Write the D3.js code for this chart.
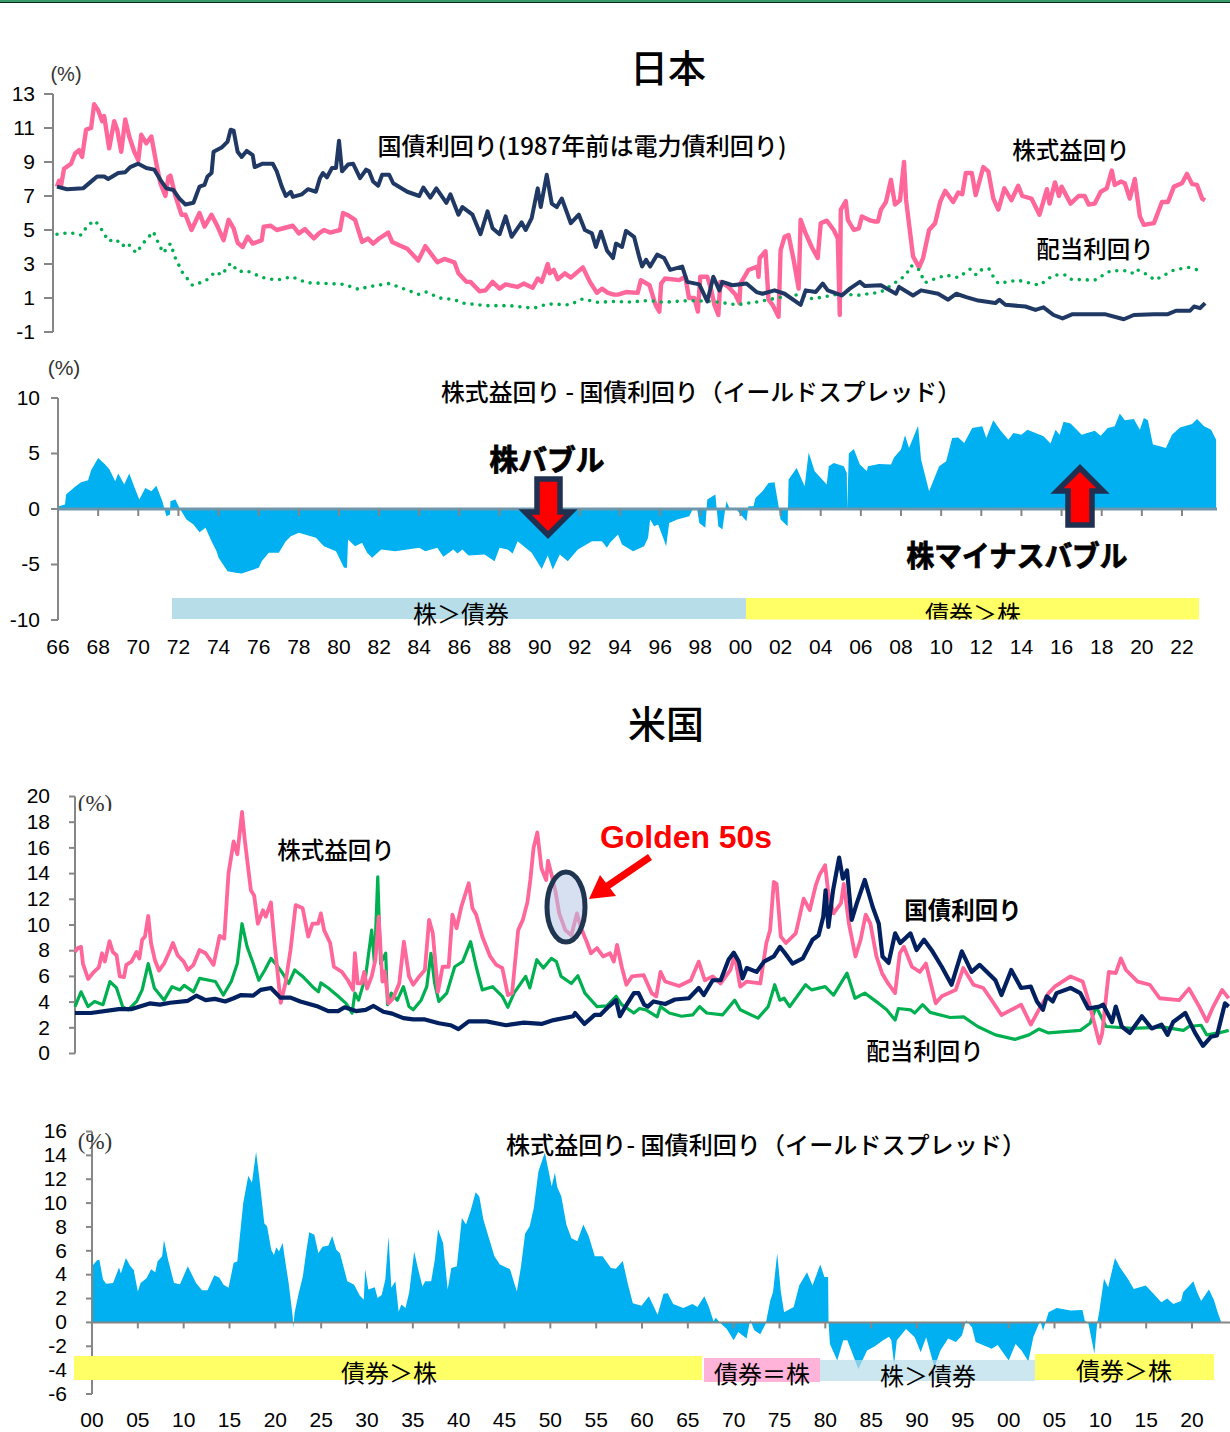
<!DOCTYPE html>
<html><head><meta charset="utf-8">
<script src="https://cdnjs.cloudflare.com/ajax/libs/d3/7.8.5/d3.min.js"></script>
<style>html,body{margin:0;padding:0;background:#fff}svg{display:block}
text{font-family:"Noto Sans CJK JP","Noto Sans",sans-serif;fill:#000}
.num text,.num{font-family:"Liberation Sans",Arial,sans-serif}
</style></head><body><svg id="c" width="1230" height="1432"></svg>
<script>
// All series: [years since 1900, percent]
const jpEarnings=[[65.95,7.55],[66.05,7.9],[66.15,7.6],[66.3,8.6],[66.65,8.9],[66.85,9.5],[67.05,9.7],[67.2,9.3],[67.4,10.9],[67.65,11],[67.8,12.4],[68,12.05],[68.2,11.4],[68.3,11.7],[68.55,9.8],[68.8,11.4],[68.95,10.9],[69.15,9.6],[69.35,11.5],[69.55,10.5],[69.8,9.6],[70,9.1],[70.15,10.6],[70.4,10.1],[70.65,10.5],[70.9,8.9],[71.1,7.75],[71.35,7],[71.5,8.1],[71.6,8.2],[71.85,7],[72.15,5.9],[72.35,5.9],[72.65,5],[73.05,6],[73.3,5.2],[73.65,5.9],[73.95,5.2],[74.25,4.4],[74.5,5.6],[74.75,5.1],[74.95,4.25],[75.2,4],[75.45,4.6],[75.7,4.2],[76.15,4.4],[76.25,5.2],[76.6,5.25],[76.9,5],[77.7,5.25],[78,4.8],[78.3,5.05],[78.75,4.5],[79,4.8],[79.25,5],[79.55,4.85],[80.05,5],[80.2,6],[80.4,5.9],[80.8,5.6],[81.15,4.3],[81.45,4.5],[81.7,4.2],[82,4.5],[82.45,4.85],[82.65,4.3],[83,4.1],[83.4,3.9],[83.95,3.2],[84.3,4.05],[84.9,3.1],[85.25,3.3],[85.75,3.1],[85.95,2.45],[86.35,1.95],[86.55,1.95],[87,1.4],[87.3,1.45],[87.65,1.95],[88,1.55],[88.3,1.8],[88.9,1.65],[89.2,1.85],[89.65,1.6],[89.9,2.15],[90.1,1.95],[90.4,3],[90.5,2.45],[90.7,2.65],[90.9,2.1],[91.25,2.45],[91.55,2.2],[92.15,2.8],[92.5,1.95],[92.85,1.3],[93.1,1.55],[93.4,1.3],[93.7,1.2],[93.9,1.2],[94.3,1.35],[94.88,1.3],[95.04,2.05],[95.47,1.75],[95.77,.6],[95.96,.2],[96.05,1.85],[96.25,2.15],[96.95,2.05],[97.25,2.25],[97.44,1],[97.7,1],[97.88,.2],[98,2.25],[98.35,2.25],[98.55,1.45],[98.7,.6],[98.9,0],[99,1.95],[99.4,1.65],[99.75,1.2],[99.95,.7],[100,1.85],[100.3,2.45],[100.4,2.65],[100.85,2.85],[100.9,2.25],[100.96,3.35],[101.25,3.75],[101.4,.9],[101.6,.6],[101.9,-.1],[102,3.8],[102.2,4.6],[102.4,4.7],[102.65,3.25],[102.9,1.55],[103,5.6],[103.25,4.8],[103.55,4],[103.85,3.35],[104,5.4],[104.3,5.55],[104.65,5],[104.85,4.5],[104.95,0],[105,6.2],[105.25,6.7],[105.35,5.6],[105.65,5],[105.9,5.1],[106.05,5.8],[106.5,5.55],[106.7,5.5],[106.85,5.5],[107,6.2],[107.25,6.65],[107.5,7.95],[107.7,6.5],[107.95,6.75],[108.15,9],[108.25,6.8],[108.6,3.45],[108.9,2.8],[109.1,3.35],[109.4,5],[109.7,5.4],[109.95,6.65],[110.2,7.3],[110.6,6.65],[110.85,7.2],[111.05,7.1],[111.23,8.35],[111.53,8.35],[111.72,7.05],[112.1,8.7],[112.35,8.45],[112.6,6.85],[112.85,6.2],[113.15,7.45],[113.5,6.75],[113.84,7.6],[114.04,7],[114.5,6.85],[114.9,5.9],[115.27,7.4],[115.4,6.55],[115.67,7.8],[115.87,7],[116,7.55],[116.45,6.55],[116.85,7],[117.15,7],[117.35,6.5],[117.65,6.55],[117.95,7.25],[118.25,7.45],[118.5,8.5],[118.65,7.65],[118.95,7.85],[119.15,7.75],[119.4,6.85],[119.65,8],[119.9,5.8],[120.1,5.3],[120.6,5.4],[121,6.65],[121.3,6.65],[121.6,7.55],[122,7.75],[122.25,8.3],[122.5,7.7],[122.75,7.65],[123,6.85],[123.15,6.75]];
const jpBond=[[65.95,7.55],[66.45,7.4],[67.25,7.45],[67.75,7.95],[67.95,8.15],[68.3,8.15],[68.5,8],[69,8.35],[69.35,8.4],[69.6,8.7],[70,8.9],[70.4,8.65],[70.8,8.55],[71.1,7.95],[71.4,7.45],[71.75,7.35],[72.05,6.85],[72.35,6.5],[72.75,6.6],[73.05,7.55],[73.3,7.65],[73.45,8.15],[73.65,8.35],[73.75,9.6],[74.15,9.85],[74.45,10.2],[74.6,10.9],[74.75,10.85],[74.95,9.6],[75.15,9.3],[75.4,9.65],[75.7,9.4],[75.8,8.7],[76.2,8.9],[76.7,8.9],[76.9,8.45],[77.15,7.55],[77.35,7],[77.6,7.25],[77.7,6.95],[78.15,7.1],[78.45,7.4],[78.85,7.25],[79.05,8.05],[79.2,8.35],[79.4,8.1],[79.65,8.65],[79.85,8.65],[80,10.25],[80.15,8.45],[80.45,8.85],[80.7,8.9],[81.05,8.05],[81.35,8.55],[81.5,8.45],[81.7,7.85],[81.95,7.6],[82.15,8.25],[82.5,8.25],[82.7,7.75],[83.4,7.25],[84,7],[84.2,7.5],[84.55,6.9],[84.85,7.45],[85.35,6.6],[85.55,7.1],[85.95,5.9],[86.15,6.35],[86.65,5.9],[87.05,4.75],[87.4,6.1],[87.65,5.1],[88,4.75],[88.3,5.8],[88.6,4.6],[89.1,5.45],[89.3,5],[89.6,5.7],[89.9,7.45],[90.05,6.35],[90.35,8.25],[90.6,6.55],[90.85,6.35],[91.1,6.85],[91.55,5.4],[91.95,5.9],[92.25,5],[92.6,4.8],[92.8,4],[93.05,4.9],[93.35,3.8],[93.65,3.35],[93.8,4.2],[94.1,4],[94.3,4.95],[94.7,4.6],[94.95,3.45],[95.1,2.85],[95.3,3.25],[95.5,2.85],[95.85,3.55],[96.2,3.35],[96.5,2.65],[97.1,2.85],[97.35,1.95],[97.95,1.8],[98.35,.8],[98.65,2.25],[98.95,1.45],[99.1,1.95],[99.6,1.75],[100.3,1.85],[100.8,1.35],[101.1,1.25],[101.7,1.45],[102.2,1.25],[103,.6],[103.25,1.45],[103.75,1.35],[104.1,1.85],[104.35,1.45],[105.05,1.15],[105.45,1.55],[105.95,1.95],[106.2,1.7],[107,1.75],[107.75,1.25],[107.9,1.65],[108.6,1.15],[109,1.45],[109.85,1.25],[110.35,.9],[110.75,1.25],[111.25,1.05],[111.85,.85],[112.7,.7],[112.9,.9],[113.2,.6],[114.2,.5],[114.7,.3],[115.1,.45],[115.6,0],[116.05,-.2],[116.55,.05],[118.15,.05],[119.1,-.25],[119.6,0],[120.6,.05],[121.3,.05],[121.7,.25],[122.4,.25],[122.6,.5],[122.9,.4],[123.15,.7]];
const jpDividend=[[65.95,4.75],[66.6,4.85],[67.15,4.7],[67.5,5.3],[67.85,5.55],[68.25,4.9],[68.5,4.35],[68.9,4.45],[69.2,4.05],[69.45,4.25],[69.9,3.65],[70.3,4.3],[70.75,4.9],[71.05,4.1],[71.25,3.65],[71.6,4.2],[71.85,3.35],[72.2,2.5],[72.7,1.75],[73.35,2],[73.85,2.55],[74.15,2.35],[74.6,3.05],[75,2.55],[75.4,2.6],[76.2,2.2],[76.9,2.05],[77.65,2.25],[78.4,1.9],[79.45,1.85],[80.25,1.8],[81,1.5],[81.4,1.65],[82.5,1.85],[83.2,1.55],[84,1.2],[84.35,1.35],[85,1],[85.75,.9],[86.15,.7],[87.35,.55],[88.5,.55],[89.7,.4],[90.4,.65],[91.5,.6],[92.15,.95],[92.85,.75],[93.85,.8],[94.3,.75],[95.4,.85],[96.2,.75],[97.45,.85],[98.65,.8],[99.8,.6],[101,.8],[101.8,1],[102.9,1.2],[103.6,.95],[105,1.25],[105.8,1.15],[107,1.35],[107.9,2.05],[108.25,2.35],[108.5,2.9],[108.85,2.75],[109.2,1.9],[109.5,2.05],[110.25,2.35],[110.85,2.2],[111.45,2.7],[111.75,2.35],[112.05,2.7],[112.4,2.7],[112.6,2.25],[112.85,1.85],[113.8,2.05],[114.9,1.75],[115.6,2.35],[116.2,2.35],[116.45,2.1],[117.65,2.05],[118.45,2.6],[119.15,2.6],[119.5,2.45],[119.7,2.7],[120.3,2.35],[120.65,2.05],[121.6,2.65],[122.3,2.8],[122.95,2.6]];
const jpSpread=[[66,.1],[66.05,.25],[66.35,.4],[66.4,1.3],[66.85,2],[67.15,2.4],[67.5,2.6],[67.65,3.5],[68,4.6],[68.3,4.1],[68.55,3.6],[68.85,2.5],[69,3.2],[69.3,2.2],[69.55,3.2],[69.8,2],[70.05,.85],[70.35,1.9],[70.65,1.6],[70.9,2.1],[71.2,.7],[71.4,-.65],[71.58,-.5],[71.6,.7],[71.85,.85],[72.05,.1],[72.4,-.95],[72.75,-1.4],[73.05,-2.1],[73.35,-1.7],[73.65,-2.9],[73.9,-3.8],[74,-4.4],[74.45,-5.6],[74.85,-5.75],[75.15,-5.8],[76,-5.3],[76.15,-4.7],[76.5,-3.95],[77,-3.95],[77.35,-2.9],[77.6,-2.45],[78,-2.15],[78.85,-2.6],[79.25,-3.35],[79.85,-3.8],[80.25,-5.3],[80.4,-5.3],[80.45,-2.75],[80.8,-3.35],[81.15,-3.05],[81.4,-3.95],[81.65,-4.4],[82.1,-3.65],[82.8,-3.8],[84,-3.5],[84.3,-3.8],[84.9,-3.5],[85.2,-4.3],[85.7,-3.65],[85.9,-4],[86.15,-3.65],[86.45,-4.2],[87.25,-4.1],[87.75,-4.7],[88,-3.5],[88.4,-3.65],[88.65,-4],[88.9,-2.9],[89.6,-3.95],[90.1,-5.4],[90.4,-4.2],[90.65,-5.45],[91,-4.1],[91.4,-4.7],[91.9,-3.65],[92.6,-2.9],[93.1,-2.9],[93.35,-3.5],[93.5,-3.05],[93.9,-2.3],[94.1,-3.2],[94.65,-3.8],[95.2,-3.35],[95.4,-2.6],[95.5,-.95],[95.7,-1.55],[95.9,-1.4],[96.15,-2.6],[96.3,-3.35],[96.45,-1.25],[96.85,-.95],[97.45,-.65],[97.65,.1],[97.85,-.05],[97.95,-1.25],[98.25,-1.7],[98.35,.85],[98.75,1.3],[98.9,-1.55],[99.1,-1.85],[99.3,.7],[99.45,.1],[99.8,-.05],[100.3,-1.1],[100.4,.25],[100.65,.25],[100.75,1],[101.1,1.6],[101.4,2.35],[101.7,2.4],[101.9,.25],[102,-.95],[102.35,-1.55],[102.4,2.65],[102.8,3.7],[103.2,2.05],[103.4,5.1],[103.7,3.4],[104.3,2.2],[104.4,3.85],[104.65,4.15],[105.15,3.85],[105.3,3.25],[105.32,0],[105.4,5],[105.65,5.4],[105.95,4],[106.3,3.4],[106.35,3.85],[106.9,4.05],[107.5,4],[107.65,4.65],[108,5.35],[108.2,6.65],[108.4,5.5],[108.85,7.5],[109,4.45],[109.4,1.6],[109.9,3.85],[110.25,4.3],[110.55,6.4],[110.85,6.45],[111.15,5.95],[111.55,7.3],[112.05,7.45],[112.25,6.4],[112.6,8],[112.95,7.1],[113.35,6.25],[113.6,6.85],[114,6.7],[114.3,7.15],[115.1,6.55],[115.45,5.9],[115.7,7.15],[115.9,6.7],[116.1,7.85],[116.45,7.7],[117,6.7],[117.65,7.05],[117.95,6.6],[118.3,7.3],[118.65,7.45],[118.9,8.6],[119.15,8],[119.6,8.1],[119.9,7.15],[120.1,8.2],[120.3,8],[120.55,5.8],[120.9,5.65],[121.2,5.5],[121.5,6.7],[121.9,7.35],[122.5,7.65],[122.75,8.1],[123.1,7.45],[123.45,7.15],[123.7,6.25]];

const usEarnings=[[0,7.9],[.3,8.2],[.65,8.3],[.85,7],[1.4,5.8],[1.9,6.25],[2.55,6.7],[2.9,7.8],[3.2,7.15],[3.7,8.75],[4.05,7.9],[4.45,7.65],[4.8,6],[5.25,5.95],[5.5,6.9],[6.05,7.15],[6.6,7.9],[6.9,7.4],[7.2,8.85],[7.5,9.1],[7.85,10.7],[8.15,8.6],[8.55,7.3],[9,6.45],[9.55,7],[10.2,8.05],[10.5,8.6],[11,7.65],[11.65,7.15],[12.1,6.5],[12.7,6.9],[13.35,8.05],[14,7.8],[14.85,6.9],[15.5,9.15],[16,8.95],[16.45,14],[17,16.5],[17.4,15.5],[17.9,18.8],[18.2,16.6],[18.85,12.7],[19.2,12.3],[19.6,10.1],[20.15,11.15],[20.45,10.65],[21,11.75],[21.35,8.85],[22.05,3.95],[22.55,5.45],[23.1,8.05],[23.65,11.55],[24.4,11.3],[25,9.1],[25.45,10.1],[26.05,10.1],[26.35,10.9],[26.7,9.6],[27.35,8.6],[27.75,6.75],[28.6,6.35],[29.25,5.7],[29.8,4.95],[30,7.8],[30.3,5.45],[30.7,5.45],[31,6.35],[31.3,5.05],[31.8,6],[32.2,7.3],[32.55,10.65],[32.95,5.6],[33.2,6.4],[33.6,3.9],[34.1,4.3],[34.75,5.45],[35.25,8.7],[35.8,6],[36.25,5.35],[36.9,6],[37.5,6.5],[37.95,10.4],[38.35,9.35],[38.9,4.8],[39.4,6.75],[40.05,6.75],[40.45,10.8],[40.9,9.75],[41.4,11.4],[42.2,13.25],[42.6,11.3],[43,10.8],[43.65,9.1],[44.5,7.55],[45.15,6.9],[45.8,6.65],[46.4,4.55],[46.85,4.7],[47.5,9.6],[48,10.4],[48.5,11.8],[48.8,13.5],[49.15,16],[49.55,17.2],[50,14.4],[50.5,13.5],[50.7,15],[51.05,14],[51.5,12.6],[51.9,10.9],[52.55,9.6],[53.2,9.2],[53.8,10.9],[54.25,9.75],[54.9,8.6],[55.3,7.8],[55.95,8.2],[56.6,7.55],[57.35,7.8],[57.75,7.15],[58.1,8.45],[58.6,6.75],[59.1,5.35],[59.7,6],[60.95,6.1],[61.8,4.7],[62.3,4.45],[62.75,6.35],[63.25,5.6],[64.75,5.25],[66,5.7],[66.85,7.15],[67.5,5.7],[68.35,6],[69.2,5.45],[70.25,6.5],[70.7,7.65],[71.3,5.2],[72,5.6],[73.45,5.45],[74.1,8.6],[74.5,9.6],[74.9,13.35],[75.2,13.2],[75.65,9.1],[76.2,8.6],[77.25,9.35],[78.1,12.05],[78.75,11.15],[79.4,13.1],[79.8,13.9],[80.4,14.65],[80.75,12.45],[81.3,10.9],[82.1,11.7],[82.4,13.2],[82.95,10.1],[83.65,7.55],[84.2,8.85],[84.75,10.8],[85.25,10.1],[85.9,7.55],[86.5,6.25],[87.15,5.45],[87.9,4.7],[88.4,7.8],[88.85,8.3],[89.7,6.75],[90.55,6.35],[91.2,7],[92.25,3.9],[92.9,4.45],[94.4,4.95],[95.2,6.65],[96.3,5.35],[97.35,5.1],[98.2,4.2],[99.3,3],[101.4,3.8],[102.45,2.25],[103.3,3.4],[104.35,4.7],[105,5.2],[106.7,6],[108,5.6],[108.6,4.2],[109.25,2.35],[109.8,.8],[110.1,1.6],[110.8,6.35],[111.55,6.25],[112.1,7.4],[112.65,6.5],[113.9,5.6],[115.2,5.35],[116.25,4.3],[118.35,4.15],[119.4,5.05],[120.5,3.65],[121.3,2.5],[122,3.65],[122.95,4.95],[123.65,4.3]];
const usDividend=[[0,3.65],[.65,4.8],[1.4,3.65],[2.1,4.05],[3,3.8],[3.75,5.6],[4.45,5.1],[5.1,3.65],[5.7,3.4],[6.6,4.05],[7.2,4.95],[7.85,7],[8.5,5.1],[9.55,4.15],[10.4,5.2],[11.25,4.95],[11.7,5.3],[12.7,4.8],[13.35,5.85],[15.05,5.6],[15.9,4.55],[16.75,5.6],[17.4,7],[17.9,10.1],[18.45,8.3],[19.1,7],[19.7,5.7],[20.35,6.5],[21,7.4],[21.6,6.9],[22.25,6.25],[22.9,5.45],[23.55,6.5],[24.4,6],[25.45,5.2],[26.1,4.8],[26.35,5.5],[27.15,5.1],[28.2,4.45],[29.05,3.9],[29.7,3.15],[30,4.7],[30.4,4.15],[31.15,6],[31.8,9.6],[32.1,7],[32.45,13.75],[32.75,7],[33.3,7.8],[33.5,3.8],[33.9,4.7],[34.55,4.15],[35.2,5.2],[35.8,3.65],[36.25,3.4],[37.1,4.15],[37.7,5.2],[38.15,7.8],[38.55,5.45],[39,4.05],[39.85,4.7],[40.7,6.75],[41.55,7.15],[42.4,8.7],[43,6.75],[43.65,4.95],[44.75,5.2],[45.8,4.45],[46.4,3.6],[47.05,4.7],[48.3,6],[48.75,5.1],[49.5,7.3],[50.2,6.65],[51.05,7.4],[51.6,7.15],[52.1,6],[53.2,5.45],[53.9,6.05],[54.65,4.7],[55.95,3.65],[57,3.7],[58,4.45],[58.6,3.8],[59.9,3.15],[60.5,3.5],[61.2,3.4],[62.4,2.85],[62.75,3.65],[63.7,3.15],[65,2.9],[66.2,3],[66.95,3.65],[67.7,3.15],[69.4,3],[70.7,4.15],[71.3,3.4],[73.2,2.75],[74.3,3.65],[75,5.35],[75.55,4.15],[76,4.3],[76.6,3.65],[78.3,5.35],[78.95,4.95],[80.4,5.2],[81.3,4.55],[82.75,6.25],[83.6,4.3],[84.65,4.7],[86.15,3.9],[87,3.4],[87.9,2.6],[88.25,3.5],[89.55,3.4],[90,3.15],[90.85,3.8],[91.65,3.2],[93.8,2.8],[95.25,2.85],[96.75,2.1],[98.65,1.45],[100.75,1.1],[102.25,1.45],[103.3,1.9],[104.35,1.6],[107.75,1.8],[108.8,2.35],[109.45,3.65],[110.5,2.1],[113.25,1.95],[116.7,2.05],[118.8,1.8],[119.4,2.1],[120.7,2.2],[121.3,1.45],[122.6,1.6],[123.65,1.8]];
const usBond=[[0,3.15],[1.7,3.15],[4.7,3.45],[6,3.45],[8,3.9],[9.1,3.8],[10.2,3.95],[12.1,4.1],[13,4.5],[14,4.15],[15,4.25],[16.1,4.05],[17,4.3],[17.8,4.55],[19.1,4.5],[19.9,4.95],[21,5.1],[22,4.35],[23.1,4.35],[24.15,4.05],[26.05,3.65],[27.15,3.3],[28.2,3.3],[28.9,3.6],[30.1,3.3],[31.15,3.4],[32,3.7],[33.05,3.25],[34,3.1],[35.2,2.75],[36.25,2.65],[37.5,2.65],[39,2.35],[40.25,2.2],[41.1,1.9],[42.2,2.5],[44.1,2.5],[46.2,2.2],[48.1,2.4],[50,2.3],[51.3,2.6],[53.4,2.9],[53.6,3.15],[54.6,2.3],[55.7,3],[56.3,3],[57.2,3.65],[58,4.15],[58.4,2.9],[59,3.65],[59.9,4.7],[60.4,4.7],[61,3.8],[61.4,3.65],[62,4.05],[63.25,3.85],[64.3,4.2],[65.8,4.3],[66.85,5.1],[67.4,4.55],[68.35,5.7],[69.2,5.7],[70.05,7.3],[70.6,7.85],[71.15,7.15],[71.55,5.85],[72,6.65],[73.05,6.35],[73.85,7.15],[74.9,7.55],[75.55,8.3],[76,7.9],[76.9,7],[78,7.4],[79.05,8.85],[79.7,9.2],[80.2,10.65],[80.45,12.7],[80.75,9.85],[81.25,12.7],[81.9,15.25],[82.3,13.6],[82.75,14.25],[83.25,10.4],[83.8,11.7],[84.65,13.5],[85.5,11.4],[86.15,10.1],[86.55,7.55],[87.2,7.05],[87.9,9.35],[88.45,8.6],[89.55,9.35],[90.2,8.05],[91,8.85],[91.9,7.95],[92.9,6.75],[93.95,5.35],[95.05,7.95],[96.1,6.35],[96.95,6.9],[98.65,5.7],[99.3,4.55],[100.35,6.5],[101.4,5.1],[102.45,5.2],[103.1,4.05],[103.75,3.4],[104.15,4.45],[104.8,4.05],[105.2,4.7],[106.7,5.1],[107.75,4.7],[108.6,3.5],[109.8,3.65],[110.2,3.8],[111.15,2.45],[111.55,3.65],[112.2,2.1],[113.05,1.6],[114.35,2.9],[115.4,1.95],[116.45,2.25],[117.1,1.45],[117.7,2.45],[119,3.15],[120.05,1.6],[120.9,.6],[121.75,1.3],[122.4,1.4],[123.25,3.9],[123.65,3.65]];
const usSpread=[[0,4.7],[.55,5.2],[.8,5.25],[1.2,3.6],[1.55,3.25],[2.3,3.3],[2.95,4.6],[3.15,4.1],[3.7,5.4],[4.15,4.75],[4.55,4.4],[5,2.6],[5.3,3.3],[5.95,3.7],[6.45,4.45],[6.9,4.2],[7.15,5.1],[7.65,5.55],[7.85,6.9],[8.3,5.25],[8.95,3.3],[9.6,3.2],[10.45,4.7],[11.35,3.3],[12,2.7],[12.6,2.7],[13.35,3.95],[13.9,3.75],[14.35,3.15],[14.9,2.9],[15.45,5],[15.85,5.1],[16.5,10],[17.05,12.3],[17.45,11.7],[17.9,14.3],[18.25,12.1],[18.8,8.3],[19.1,8.05],[19.55,6.1],[19.85,5.65],[20.1,6.3],[20.4,5.95],[20.8,6.65],[21,5.55],[21.45,3.3],[21.9,.45],[21.95,-.5],[22.1,.8],[22.55,2.45],[23,3.85],[23.4,6.1],[23.7,7.55],[24.25,7.35],[24.7,5.8],[25.15,6.35],[25.8,6.45],[26.2,7.25],[26.65,6.1],[27.05,5.8],[27.85,3.45],[28.6,3.15],[29.2,2.25],[29.65,1.9],[29.8,4.45],[30.15,2.75],[30.85,2.95],[31.15,2.05],[31.6,2.3],[32,3.6],[32.35,7.2],[32.65,2.9],[33.1,3.45],[33.45,.9],[33.75,1.5],[34.2,1.2],[34.6,2.5],[35.15,5.95],[35.5,4.7],[36.05,3],[36.35,3.45],[37,3.45],[37.4,5.25],[37.75,7.8],[38.3,6.65],[38.8,2.75],[39.2,4.55],[39.8,4.7],[40.35,8.75],[40.8,8.2],[41.3,9.35],[41.85,10.9],[42.25,10.55],[42.7,8.6],[43.25,7.2],[43.9,5.55],[44.5,4.85],[45.6,4.45],[46.35,2.6],[46.8,4.7],[47.25,7.45],[47.75,8.05],[48.2,9.6],[48.7,12.65],[49.4,14.25],[50.15,11.4],[50.5,12.55],[50.75,11.35],[51.2,10.55],[51.75,8.2],[52.3,7.05],[52.95,6.8],[53.6,8.2],[54.2,7.2],[54.85,5.55],[55.7,5.55],[56.6,4.55],[57.15,4.5],[57.9,5.15],[58.45,3.25],[59,1.6],[59.95,1.4],[60.75,2.2],[61.7,.65],[62.35,2.4],[62.8,2.45],[63.4,1.55],[64.5,1.2],[65.5,1.55],[66.05,1.3],[66.8,2.2],[67.3,1.3],[67.8,.1],[68.05,.4],[68.6,-.1],[69.25,-.55],[70,-1.5],[70.5,-.8],[71.4,-1.35],[71.8,.2],[72.25,-.65],[72.9,-1],[73.5,-.1],[74,1.85],[74.3,2.55],[74.75,5.8],[75.15,2.55],[75.5,.85],[76.55,1.3],[77.15,3.1],[78,4.2],[78.6,3.1],[79.45,4.85],[79.9,3.8],[80.3,3.8],[80.35,0],[80.5,-1.8],[81.3,-3.2],[81.95,-1.5],[82.4,-1.5],[83.6,-3.9],[84.55,-2.35],[85.4,-2],[86.3,-1.5],[86.95,-1.2],[87.2,-1.5],[87.5,-3.5],[87.8,-1.5],[88.8,-.55],[89.75,-1.25],[90.4,-2.5],[91,-1.25],[91.9,-3.75],[92.55,-2.35],[93.4,-1.35],[94.25,-1.65],[94.9,-1.1],[95.35,.15],[96,-.4],[96.4,-1.65],[98.15,-2.2],[98.8,-1.9],[100,-3.2],[100.75,-1.8],[101.4,-2.35],[102.15,-3.25],[102.7,-1.2],[103.45,.15],[103.75,-.7],[104.35,.85],[105.25,1.2],[106.75,1],[108.05,1.05],[108.3,.15],[108.7,-.1],[109.35,-2.6],[109.65,-.1],[109.9,1],[110.4,3.65],[110.85,2.95],[111.6,5.4],[112.15,4.6],[113,3.65],[113.65,2.8],[114.95,3.1],[115.8,2.4],[116.65,1.7],[117.3,2],[117.95,1.55],[118.8,1.8],[119.05,2.55],[119.55,2.95],[120.15,3.45],[120.55,2.55],[121,1.8],[121.85,2.75],[122.4,1.85],[122.8,.85],[123.2,0]];

const jpTopTicks=[-1,1,3,5,7,9,11,13];
const jpSpreadTicks=[-10,-5,0,5,10];
const jpYears=d3.range(66,123,2);
const usTopTicks=d3.range(0,21,2);
const usSpreadTicks=d3.range(-6,17,2);
const usYears=d3.range(0,121,5);

const COL={pink:"#ff6699",jpNavy:"#1f3864",usNavy:"#002060",green:"#00b050",area:"#00b0f0",gray:"#868686"};
const svg=d3.select("#c");
const defs=svg.append("defs");
function clip(id,x,y,w,h){defs.append("clipPath").attr("id",id).append("rect").attr("x",x).attr("y",y).attr("width",w).attr("height",h);}
clip("cYellow",0,560,1230,59.5);
clip("cPct",60,780,100,31);

svg.append("rect").attr("width",1230).attr("height",2).attr("fill","#3a9a6c");
svg.append("rect").attr("y",2).attr("width",1230).attr("height",1).attr("fill","#0a2a20");

function label(s,x,y,size,opt={}){
  const t=svg.append("text").attr("x",x).attr("y",opt.family?y:y-2).attr("font-size",size)
   .attr("text-anchor",opt.anchor||"middle").attr("dominant-baseline","central").text(s);
  if(opt.weight)t.attr("font-weight",opt.weight);
  if(opt.family)t.style("font-family",opt.family);
  if(opt.fill)t.style("fill",opt.fill);
  if(opt.clip)t.attr("clip-path",`url(#${opt.clip})`);
  if(opt.stroke)t.style("stroke",opt.stroke).style("stroke-width",opt.strokeW);
  if(opt.w)t.attr("textLength",opt.w).attr("lengthAdjust","spacingAndGlyphs");
  return t;
}
const hy=d=>String(d);
function yAxis(scale,ticks,x,len){
  const g=svg.append("g").attr("class","num").attr("transform",`translate(${x},0)`)
   .call(d3.axisLeft(scale).tickValues(ticks).tickSize(len).tickSizeOuter(0).tickPadding(0).offset(0).tickFormat(hy));
  g.select(".domain").attr("stroke",COL.gray).attr("stroke-width",2);
  g.selectAll(".tick line").attr("stroke",COL.gray).attr("stroke-width",2);
  g.selectAll(".tick text").attr("font-size",21).attr("fill","#111");
  return g;
}
function xAxis(scale,ticks,y,fmt,labelY,len){
  const g=svg.append("g").attr("class","num").attr("transform",`translate(0,${y})`)
   .call(d3.axisBottom(scale).tickValues(ticks).tickSize(len).tickSizeOuter(0).tickPadding(0).offset(0).tickFormat(fmt));
  g.select(".domain").remove();
  g.selectAll(".tick line").attr("stroke",COL.gray).attr("stroke-width",2);
  g.selectAll(".tick text").attr("font-size",21).attr("fill","#111").attr("dy",0).attr("y",labelY-y).attr("dominant-baseline","central");
  return g;
}
function drawLine(data,x,y,col,w,dash){
  const p=svg.append("path").datum(data).attr("fill","none").attr("stroke",col).attr("stroke-width",w)
   .attr("stroke-linejoin","round")
   .attr("d",d3.line().x(d=>x(d[0])).y(d=>y(d[1])));
  if(dash)p.attr("stroke-dasharray",dash).attr("stroke-linecap","round");
  return p;
}
function drawArea(data,x,y){
  svg.append("path").datum(data).attr("fill",COL.area)
   .attr("d",d3.area().x(d=>x(d[0])).y0(y(0)).y1(d=>y(d[1])));
}
const two=d=>String(Math.round(d)%100).padStart(2,"0");

// ---------- Japan ----------
label("日本",668,67,38,{weight:500});
const xJ=d3.scaleLinear().domain([66,122]).range([58,1182]);
const yJ1=d3.scaleLinear().domain([-1,13]).range([332,94]);
yAxis(yJ1,jpTopTicks,53,9).selectAll(".tick text").attr("x",-18);
label("(%)",66,74,20,{family:"Liberation Sans",fill:"#333"});
drawLine(jpEarnings,xJ,yJ1,COL.pink,4.4);
drawLine(jpDividend,xJ,yJ1,COL.green,3.6,"0 8");
drawLine(jpBond,xJ,yJ1,COL.jpNavy,4);
label("国債利回り(1987年前は電力債利回り)",582,147,23.5,{weight:500,w:409});
label("株式益回り",1071,151,23.5,{weight:500});
label("配当利回り",1095,250,23.5,{weight:500});

const yJ2=d3.scaleLinear().domain([-10,10]).range([620,398]);
drawArea(jpSpread,xJ,yJ2);
yAxis(yJ2,jpSpreadTicks,58,7).selectAll(".tick text").attr("x",-18);
svg.append("line").attr("x1",58).attr("x2",1217).attr("y1",yJ2(0)).attr("y2",yJ2(0)).attr("stroke","#6f97ab").attr("stroke-width",3);
xAxis(xJ,jpYears,yJ2(0),two,646,7);
label("(%)",64,367,21,{family:"Liberation Sans",fill:"#333"});
label("株式益回り - 国債利回り（イールドスプレッド）",701,393,23.5,{weight:500,w:520});
label("株バブル",547,460,29,{weight:700,stroke:"#000",strokeW:.8,w:115});
label("株マイナスバブル",1017,556,29,{weight:700,stroke:"#000",strokeW:.8,w:221});
const arrow=svg.append("g").attr("fill","#ff0000").attr("stroke","#1f3050").attr("stroke-width",5.5).attr("stroke-linejoin","miter");
arrow.append("path").attr("d","M537,479L560,479L560,512L571,512L548,535L525,512L537,512Z");
arrow.append("path").attr("d","M1068,525L1092,525L1092,491L1103,491L1080,468L1057,491L1068,491Z");
svg.append("rect").attr("x",172).attr("y",598).attr("width",574).attr("height",21).attr("fill","#b7dde8");
svg.append("rect").attr("x",746).attr("y",598).attr("width",453).attr("height",21.5).attr("fill","#ffff66");
label("株＞債券",461,614,24);
label("債券＞株",973,614,24,{clip:"cYellow"});

// ---------- USA ----------
label("米国",666,723,38,{weight:500});
const xU1=d3.scaleLinear().domain([0,120]).range([75,1194.6]);
const yU1=d3.scaleLinear().domain([0,20]).range([1053.5,796.5]);
yAxis(yU1,usTopTicks,75,6).selectAll(".tick text").attr("x",-25);
label("(%)",95,803,23,{family:"Liberation Serif",fill:"#333",clip:"cPct"});
drawLine(usDividend,xU1,yU1,COL.green,3.2);
drawLine(usEarnings,xU1,yU1,COL.pink,3.8);
drawLine(usBond,xU1,yU1,COL.usNavy,4.2);
svg.append("ellipse").attr("cx",566).attr("cy",907).attr("rx",19).attr("ry",35).attr("fill","#b4c6e4").attr("fill-opacity",.55).attr("stroke","#1f3550").attr("stroke-width",5);
svg.append("line").attr("x1",650).attr("y1",857).attr("x2",606).attr("y2",887).attr("stroke","#ff0000").attr("stroke-width",7);
svg.append("path").attr("d","M589,899L600,875L616,896Z").attr("fill","#ff0000");
label("Golden 50s",686,837,31,{family:"Liberation Sans",weight:700,fill:"#ff0000",w:172});
label("株式益回り",336,851,23.5,{weight:500});
label("国債利回り",963,911,23.5,{weight:700});
label("配当利回り",925,1052,23.5,{weight:500});

const xU2=d3.scaleLinear().domain([0,120]).range([92,1192]);
const yU2=d3.scaleLinear().domain([-6,16]).range([1394,1131.5]);
drawArea(usSpread,xU2,yU2);
yAxis(yU2,usSpreadTicks,92,6).selectAll(".tick text").attr("x",-25);
svg.append("line").attr("x1",92).attr("x2",1230).attr("y1",yU2(0)).attr("y2",yU2(0)).attr("stroke",COL.gray).attr("stroke-width",2);
xAxis(xU2,usYears,yU2(0),two,1420,6);
label("(%)",95,1141,23,{family:"Liberation Serif",fill:"#333"});
label("株式益回り- 国債利回り（イールドスプレッド）",766,1146,23.5,{weight:500,w:520});
const bars=[[74,702,1356,1380,"#ffff66",1],[704,820,1358,1382,"#ffb3d9",1],[820,1035,1360,1381,"#b7dde8",.7],[1035,1214,1354,1380,"#ffff66",1]];
bars.forEach(b=>svg.append("rect").attr("x",b[0]).attr("width",b[1]-b[0]).attr("y",b[2]).attr("height",b[3]-b[2]).attr("fill",b[4]).attr("fill-opacity",b[5]));
label("債券＞株",389,1373,24);
label("債券＝株",762,1374,24);
label("株＞債券",928,1376,24);
label("債券＞株",1124,1371,24);
</script></body></html>
